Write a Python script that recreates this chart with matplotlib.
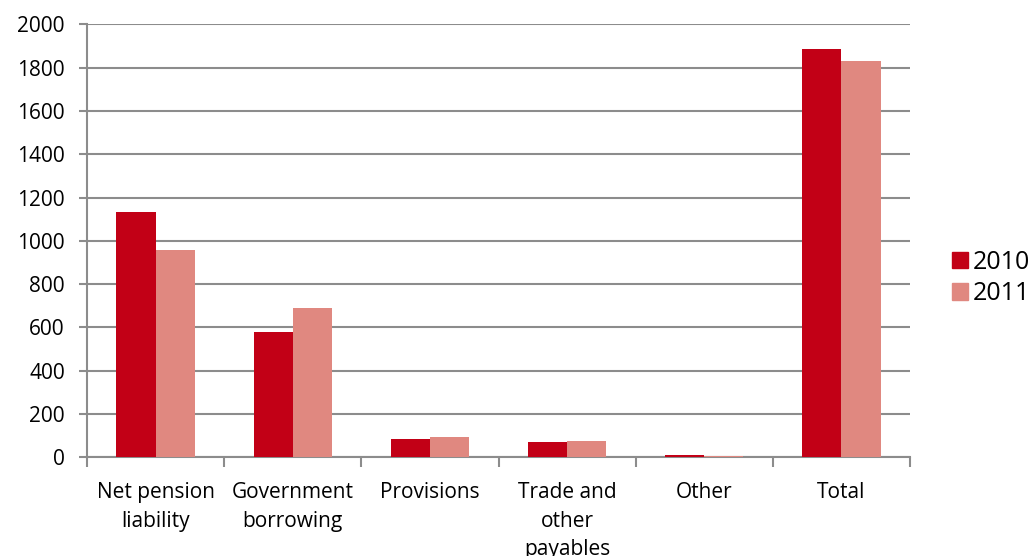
import numpy as np
import matplotlib
matplotlib.use("Agg")
import matplotlib.pyplot as plt
from matplotlib.patches import Patch

# ── Data ─────────────────────────────────────────────
categories = ["Net pension\nliability", "Government\nborrowing", "Provisions",
              "Trade and\nother\npayables", "Other", "Total"]
values_2010 = [1133, 579, 83, 71, 11, 1885]
values_2011 = [957, 690, 94, 75, 7, 1832]
years = ["2010", "2011"]

RED = "#c20016"
PINK = "#e08880"
GRID = "#8c8c8c"

plt.rcParams["font.family"] = ["Open Sans", "DejaVu Sans"]

fig = plt.figure(figsize=(10.32, 5.56), dpi=100)
ax = fig.add_axes([0.0843, 0.1775, 0.7975, 0.7788])

x = np.arange(len(categories))
w = 0.285
ax.bar(x - w / 2, values_2010, width=w, color=RED, zorder=3)
ax.bar(x + w / 2, values_2011, width=w, color=PINK, zorder=3)

ax.set_xlim(-0.5, len(categories) - 0.5)
ax.set_ylim(0, 2000)
ax.set_yticks(np.arange(0, 2001, 200))
ax.yaxis.grid(True, color=GRID, linewidth=1.5, zorder=0)

# category labels centred, ticks sit on the boundaries
ax.set_xticks(np.arange(-0.5, len(categories), 1.0))
ax.set_xticklabels([])
ax.set_xticks(x, minor=True)
ax.set_xticklabels(categories, minor=True, fontsize=15, linespacing=1.45,
                   va="top")
ax.tick_params(axis="x", which="minor", length=0, pad=18)
ax.tick_params(axis="x", which="major", length=7, width=1.5, color=GRID)
ax.tick_params(axis="y", length=6, width=1.5, color=GRID, labelsize=15, pad=10)

for side in ["top", "right"]:
    ax.spines[side].set_visible(False)
for side in ["left", "bottom"]:
    ax.spines[side].set_color(GRID)
    ax.spines[side].set_linewidth(1.5)

handles = [Patch(color=RED), Patch(color=PINK)]
fig.legend(handles, years, loc="center left", bbox_to_anchor=(0.922, 0.5),
           frameon=False, fontsize=18, handlelength=0.65, handleheight=0.65,
           handletextpad=0.2, labelspacing=0.25, borderaxespad=0,
           borderpad=0)

fig.savefig("out.png", dpi=100)
